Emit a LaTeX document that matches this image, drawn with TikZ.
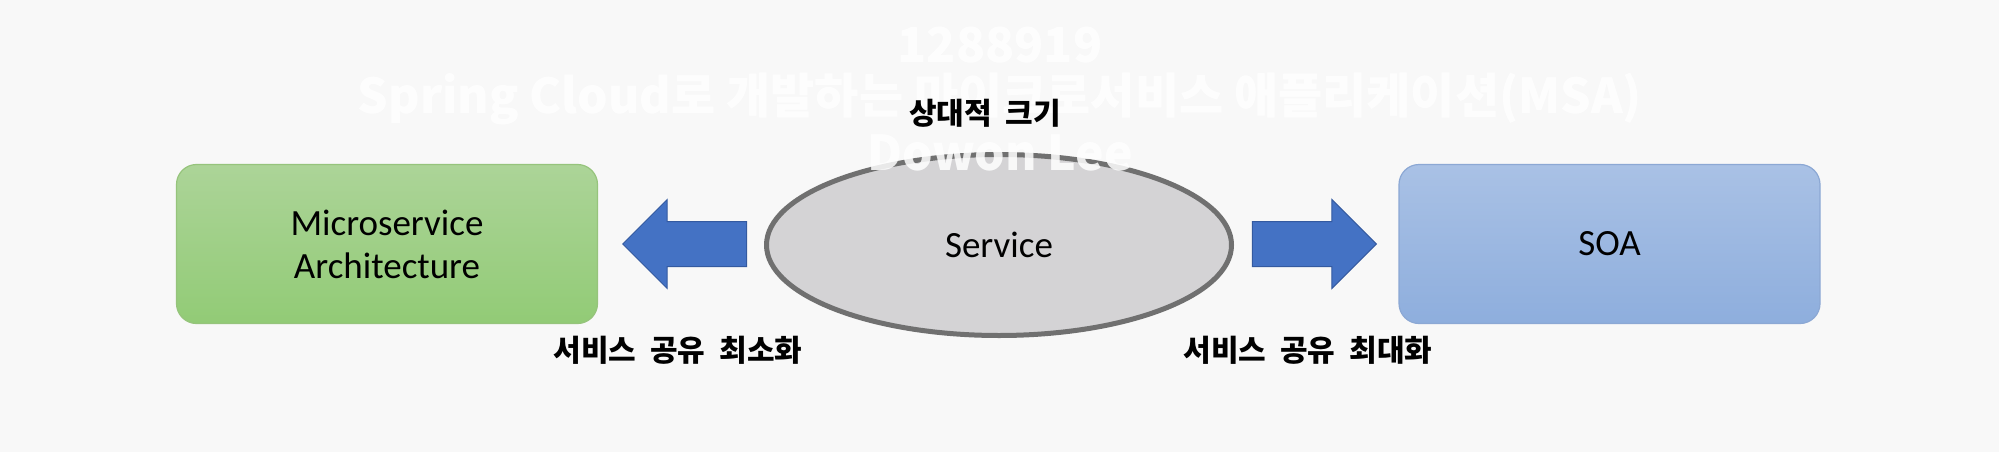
\documentclass[tikz,border=0pt]{standalone}
\usepackage{fontspec}
\setmainfont{Carlito}
\newfontfamily\krfont{Noto Sans CJK KR}
\usetikzlibrary{shapes.geometric,shapes.arrows}

\definecolor{bgcol}{RGB}{248,248,248}
\definecolor{greentop}{RGB}{172,212,152}
\definecolor{greenbot}{RGB}{146,203,118}
\definecolor{greenline}{RGB}{150,196,124}
\definecolor{bluetop}{RGB}{169,193,229}
\definecolor{bluebot}{RGB}{142,174,221}
\definecolor{blueline}{RGB}{140,168,212}
\definecolor{arrowblue}{RGB}{68,114,196}
\definecolor{arrowline}{RGB}{52,90,160}
\definecolor{svcfill}{RGB}{212,211,213}
\definecolor{svcline}{RGB}{112,112,112}

\newcommand{\krwide}{\spaceskip=14pt\relax}

\begin{document}
\begin{tikzpicture}[
    x=1pt, y=-1pt,
    archbox/.style={
        rectangle,
        rounded corners=20pt,
        line width=1.2pt,
        minimum width=421pt,
        minimum height=159pt,
        align=center,
        font=\fontsize{37}{43}\selectfont
    },
    blockarrow/.style={
        single arrow,
        fill=arrowblue,
        draw=arrowline,
        line width=1pt,
        inner xsep=0pt,
        inner ysep=22pt,
        minimum height=124pt,
        single arrow head extend=22pt,
        anchor=tip
    },
    krlabel/.style={
        font=\krfont\bfseries\fontsize{30}{34}\selectfont\krwide,
        inner sep=0pt
    },
    watermark/.style={
        font=\krfont\bfseries\fontsize{48}{52}\selectfont,
        text=white,
        text opacity=0.85,
        inner sep=0pt
    }
]

\fill[bgcol] (0,0) rectangle (1999,452);
\useasboundingbox (0,0) rectangle (1999,452);

\node[archbox, draw=greenline, top color=greentop, bottom color=greenbot] (msa) at (387,244) {Microservice\\Architecture};

\node[archbox, draw=blueline, top color=bluetop, bottom color=bluebot] (soa) at (1609.5,244) {SOA};

\node[ellipse, draw=svcline, fill=svcfill, line width=5pt, inner sep=0pt,
      minimum width=465pt, minimum height=181pt,
      font=\fontsize{37}{43}\selectfont] (service) at (999,245) {Service};

\node[blockarrow, shape border rotate=180] (toleft) at (622,244) {};
\node[blockarrow] (toright) at (1377,244) {};

% watermark
\node[watermark] (wmid) at (1000,45) {1288919};
\node[watermark] (wmtitle) at (1000,99) {Spring Cloud로 개발하는 마이크로서비스 애플리케이션(MSA)};
\node[watermark] (wmname) at (1000,153) {Dowon Lee};

\node[krlabel] (relsize) at (985,113) {상대적 크기};
\node[krlabel] (minshare) at (678,350) {서비스 공유 최소화};
\node[krlabel] (maxshare) at (1308,350) {서비스 공유 최대화};

\end{tikzpicture}
\end{document}
